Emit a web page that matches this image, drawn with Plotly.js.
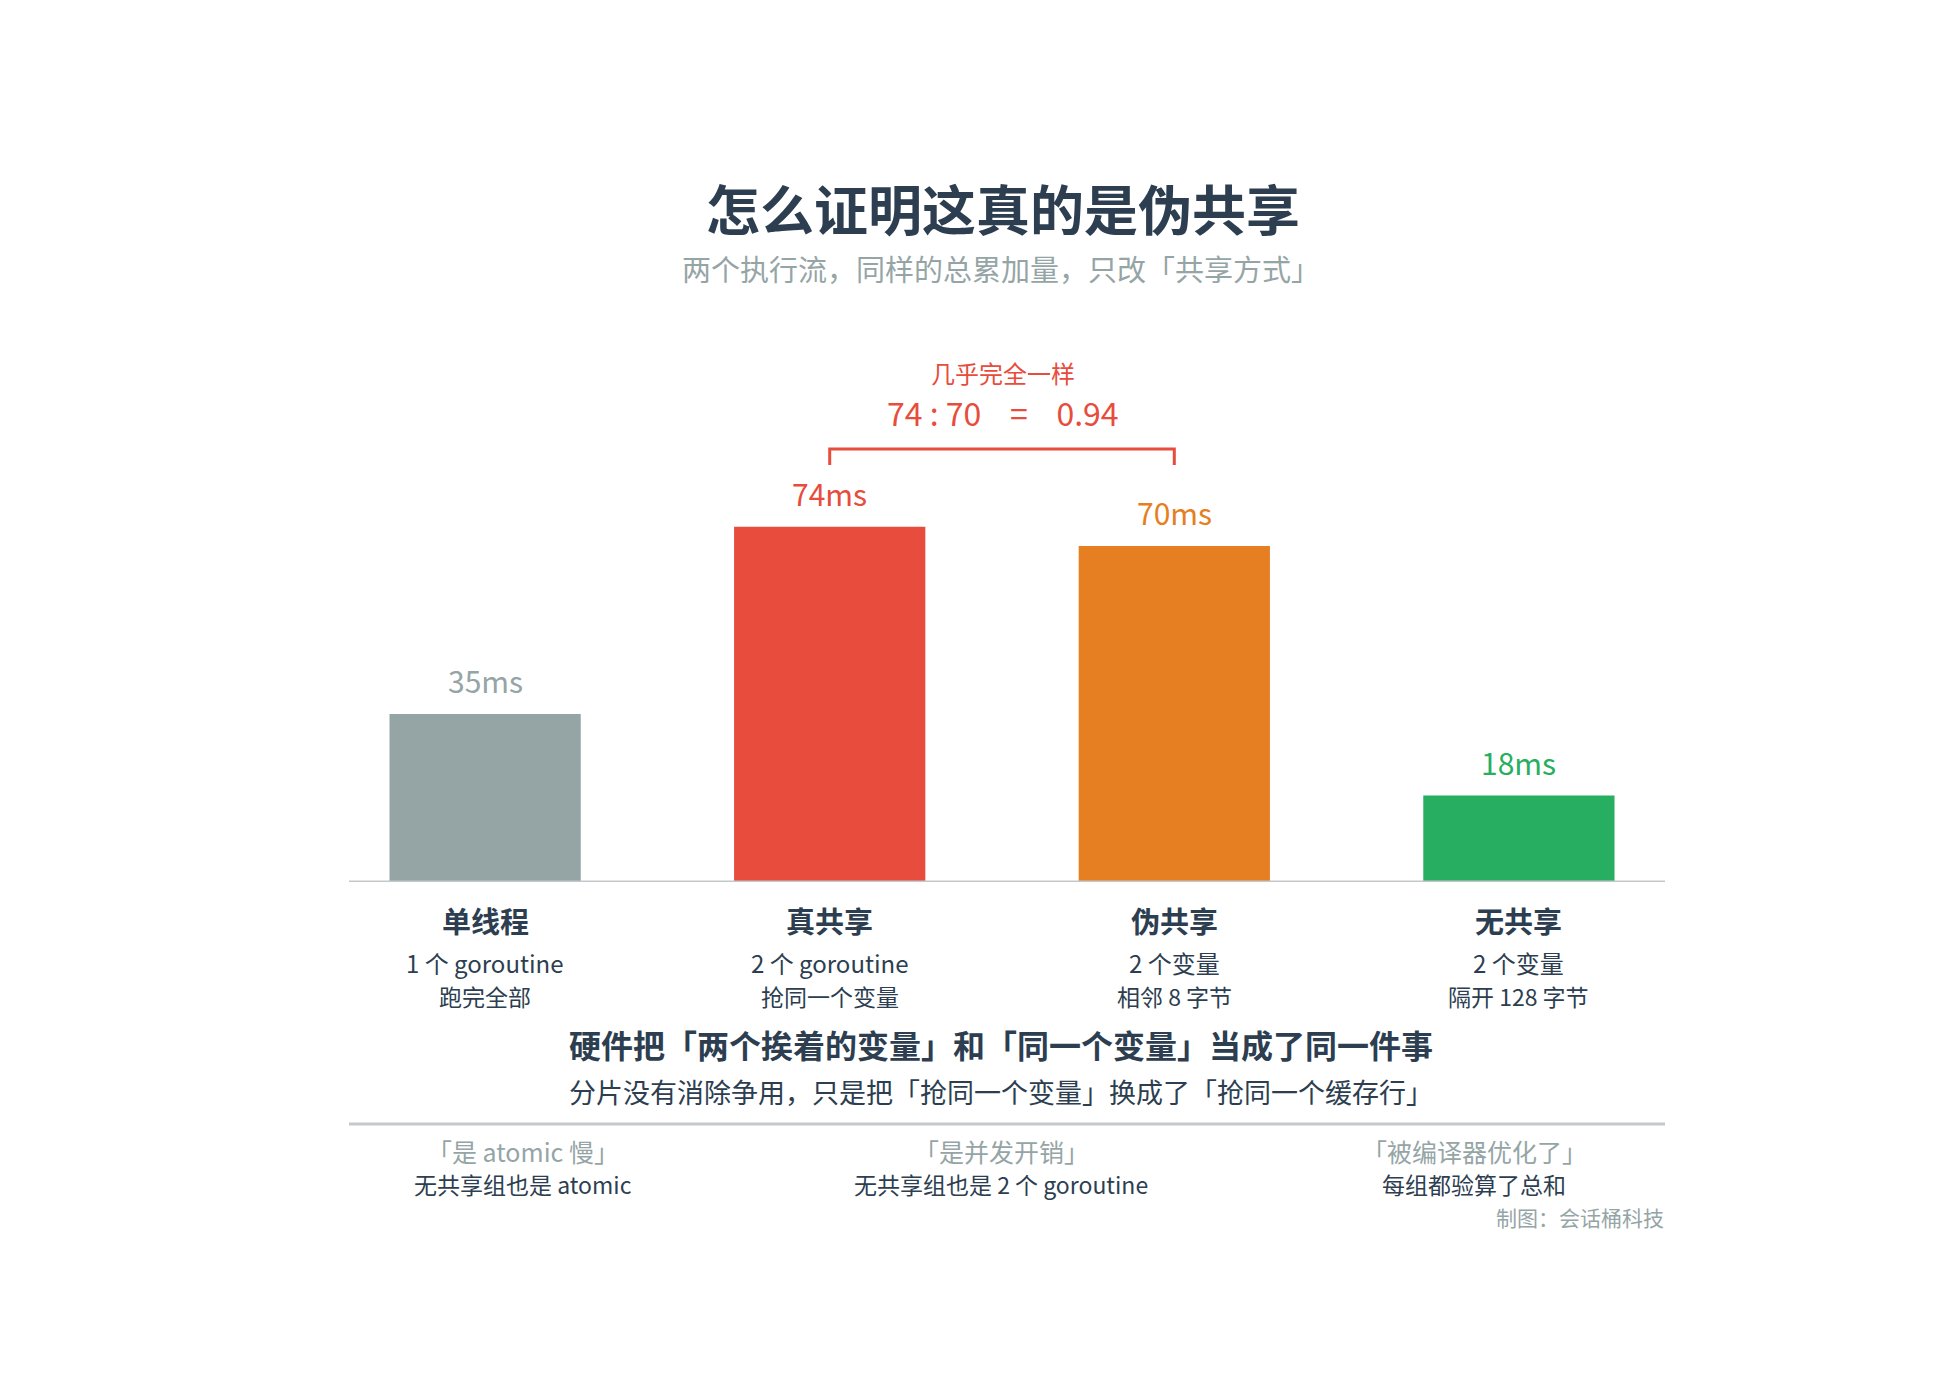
<!DOCTYPE html>
<html>
<head>
<meta charset="utf-8">
<script src="https://cdn.plot.ly/plotly-3.0.1.min.js"></script>
<style>
  html, body { margin: 0; padding: 0; background: #ffffff; }
  #chart { width: 1950px; height: 1380px; }
</style>
</head>
<body>
<div id="chart"></div>
<script>
// --- Data ---
const CATEGORIES = ['单线程', '真共享', '伪共享', '无共享'];
const TIMES_MS = [35, 74, 70, 18];
const BAR_COLORS = ['#95a5a6', '#e74c3c', '#e67e22', '#27ae60'];
const SUB_LINE_1 = ['1 个 goroutine', '2 个 goroutine', '2 个变量', '2 个变量'];
const SUB_LINE_2 = ['跑完全部', '抢同一个变量', '相邻 8 字节', '隔开 128 字节'];
const MYTHS = ['「是 atomic 慢」', '「是并发开销」', '「被编译器优化了」'];
const REBUTTALS = ['无共享组也是 atomic', '无共享组也是 2 个 goroutine', '每组都验算了总和'];

const FONT = '"Noto Sans CJK SC", "Noto Sans", sans-serif';
const DARK = '#2c3e50';
const GREY = '#95a5a6';
const RED = '#e74c3c';
const RULE = '#c4c8ca';

// plot frame in pixels (baseline at y=882, 4.8 px per ms)
const W = 1950, H = 1380;
const L = 349, R = 1665, T = 100, B = 882;
const PX_PER_MS = 4.8;
const NUDGE = -4; // centred CJK text sits a little right of its box centre

// pixel -> paper helpers for free-floating text
function px(x) { return (x - L) / (R - L); }
function py(y) { return (B - y) / (B - T); }

function note(text, x, y, size, color, extra) {
  return Object.assign({
    text: text, xref: 'paper', yref: 'paper', x: px(x + NUDGE), y: py(y),
    xanchor: 'center', yanchor: 'middle', showarrow: false,
    font: { family: FONT, size: size, color: color }
  }, extra || {});
}

const annotations = [];

// subtitle
annotations.push(note('两个执行流，同样的总累加量，只改「共享方式」', 1005, 268, 29, GREY));

// value labels above bars
TIMES_MS.forEach(function (v, i) {
  annotations.push({
    text: v + 'ms', x: i, y: v, xref: 'x', yref: 'y',
    xanchor: 'center', yanchor: 'middle', yshift: 34, showarrow: false,
    font: { family: FONT, size: 30, color: BAR_COLORS[i] }
  });
});

// category labels under the axis
CATEGORIES.forEach(function (c, i) {
  annotations.push({ text: c, x: i, y: py(920), xref: 'x', yref: 'paper',
    xanchor: 'center', yanchor: 'middle', showarrow: false,
    font: { family: FONT, size: 29, color: DARK, weight: 'bold' } });
  annotations.push({ text: SUB_LINE_1[i], x: i, y: py(962), xref: 'x', yref: 'paper',
    xanchor: 'center', yanchor: 'middle', showarrow: false,
    font: { family: FONT, size: 24, color: DARK } });
  annotations.push({ text: SUB_LINE_2[i], x: i, y: py(996), xref: 'x', yref: 'paper',
    xanchor: 'center', yanchor: 'middle', showarrow: false,
    font: { family: FONT, size: 23, color: DARK } });
});

// ratio callout (shown truncated to two decimals)
const ratio = (Math.floor(TIMES_MS[2] / TIMES_MS[1] * 100) / 100).toFixed(2);
annotations.push(note('几乎完全一样', 1007, 373, 24, RED));
annotations.push(note(TIMES_MS[1] + ' : ' + TIMES_MS[2] + '    =    ' + ratio, 1007, 412, 32, RED));

// conclusion
annotations.push(note('硬件把「两个挨着的变量」和「同一个变量」当成了同一件事', 1005, 1044, 32, DARK,
  { font: { family: FONT, size: 32, color: DARK, weight: 'bold' } }));
annotations.push(note('分片没有消除争用，只是把「抢同一个变量」换成了「抢同一个缓存行」', 1005, 1091, 27, DARK));

// myth / rebuttal columns
const COL_X = [527, 1005, 1478];
MYTHS.forEach(function (m, i) {
  annotations.push(note(m, COL_X[i], 1151, 25, GREY));
  annotations.push(note(REBUTTALS[i], COL_X[i], 1184, 23, DARK));
});

// credit
annotations.push(note('制图：会话桶科技', 1670, 1217, 21, GREY, { xanchor: 'right' }));

// bracket between 真共享 and 伪共享
const bracketY = (B - 449) / PX_PER_MS;
const tickY = (B - 465) / PX_PER_MS;
const shapes = [
  { type: 'line', xref: 'paper', yref: 'y', x0: 0, x1: 1, y0: 0, y1: 0,
    line: { color: RULE, width: 3 } },
  { type: 'path', xref: 'x', yref: 'y',
    path: 'M 1 ' + tickY + ' L 1 ' + bracketY + ' L 2 ' + bracketY + ' L 2 ' + tickY,
    line: { color: RED, width: 3 } },
  { type: 'line', xref: 'paper', yref: 'paper', x0: 0, x1: 1, y0: py(1124), y1: py(1124),
    line: { color: RULE, width: 3 } }
];

const barTrace = {
  type: 'bar',
  x: CATEGORIES.map(function (c, i) { return i; }),
  y: TIMES_MS,
  width: 0.555,
  marker: { color: BAR_COLORS, line: { width: 0 } },
  hoverinfo: 'skip'
};

const layout = {
  width: W, height: H,
  margin: { l: L, r: W - R, t: T, b: H - B },
  paper_bgcolor: '#ffffff',
  plot_bgcolor: '#ffffff',
  showlegend: false,
  title: {
    text: '怎么证明这真的是伪共享',
    font: { family: FONT, size: 54, color: DARK, weight: 'bold' },
    x: 0.497, xanchor: 'center', xref: 'paper',
    y: 1 - 212 / H, yanchor: 'middle', yref: 'container'
  },
  xaxis: { range: [-0.395, 3.424], visible: false, fixedrange: true },
  yaxis: { range: [0, (B - T) / PX_PER_MS], visible: false, fixedrange: true },
  annotations: annotations,
  shapes: shapes
};

Plotly.newPlot('chart', [barTrace], layout, { displayModeBar: false, staticPlot: true });
</script>
</body>
</html>
